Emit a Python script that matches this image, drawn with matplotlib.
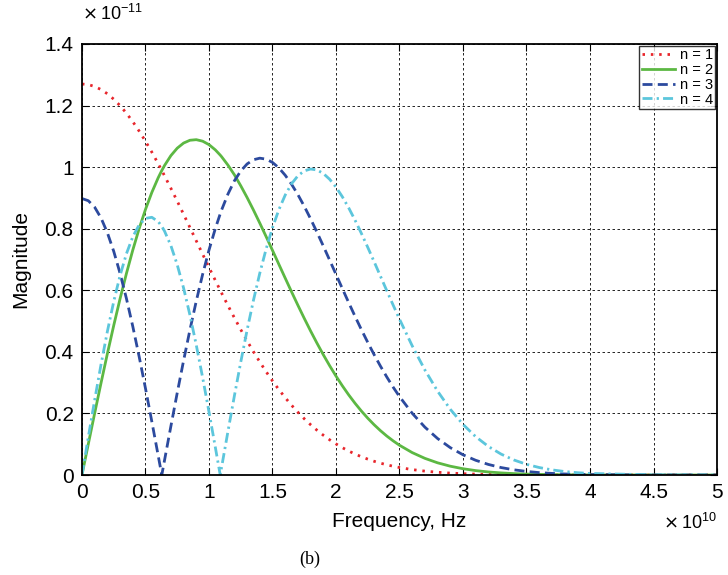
import matplotlib
matplotlib.use('Agg')
import matplotlib.pyplot as plt

# frequency axis, units of 1e10 Hz
freq = [0.0, 0.05, 0.1, 0.15, 0.2, 0.25, 0.3, 0.35, 0.4, 0.45, 0.5, 0.55, 0.6,
        0.6285, 0.65, 0.7, 0.75, 0.8, 0.85, 0.9, 0.95, 1.0, 1.05, 1.0886, 1.1,
        1.15, 1.2, 1.25, 1.3, 1.35, 1.4, 1.45, 1.5, 1.55, 1.6, 1.65, 1.7, 1.75,
        1.8, 1.85, 1.9, 1.95, 2.0, 2.05, 2.1, 2.15, 2.2, 2.25, 2.3, 2.35, 2.4,
        2.45, 2.5, 2.6, 2.7, 2.8, 2.9, 3.0, 3.1, 3.2, 3.3, 3.4, 3.5, 3.6, 3.7,
        3.8, 3.9, 4.0, 4.5, 5.0]

# spectrum magnitudes, units of 1e-11
mag_n1 = [1.2700, 1.2680, 1.2620, 1.2520, 1.2383, 1.2207, 1.1997, 1.1752, 1.1477,
          1.1172, 1.0841, 1.0487, 1.0112, 0.9891, 0.9720, 0.9313, 0.8896, 0.8470,
          0.8039, 0.7606, 0.7173, 0.6744, 0.6321, 0.5999, 0.5905, 0.5499, 0.5107,
          0.4724, 0.4358, 0.4007, 0.3673, 0.3356, 0.3057, 0.2776, 0.2513, 0.2267,
          0.2039, 0.1828, 0.1634, 0.1456, 0.1293, 0.1144, 0.1010, 0.0888, 0.0779,
          0.0681, 0.0593, 0.0516, 0.0446, 0.0385, 0.0332, 0.0284, 0.0243,
          0.0176, 0.0126, 0.0089, 0.0062, 0.0043, 0.0029, 0.0019, 0.0013, 0.0008,
          0.0005, 0.0003, 0.0002, 0.0001, 0.0001, 0.0001, 0.0, 0.0]
mag_n2 = [0.0, 0.1009, 0.2008, 0.2988, 0.3941, 0.4856, 0.5727, 0.6545, 0.7305,
          0.8000, 0.8625, 0.9178, 0.9654, 0.9891, 1.0053, 1.0374, 1.0616, 1.0782,
          1.0873, 1.0892, 1.0843, 1.0731, 1.0560, 1.0391, 1.0335, 1.0062, 0.9752,
          0.9396, 0.9014, 0.8608, 0.8183, 0.7744, 0.7297, 0.6846, 0.6397, 0.5952,
          0.5515, 0.5090, 0.4679, 0.4285, 0.3908, 0.3551, 0.3214, 0.2898, 0.2603,
          0.2330, 0.2078, 0.1846, 0.1634, 0.1441, 0.1266, 0.1109, 0.0967,
          0.0728, 0.0541, 0.0396, 0.0286, 0.0204, 0.0143, 0.0099, 0.0068, 0.0046,
          0.0030, 0.0020, 0.0013, 0.0008, 0.0005, 0.0003, 0.0, 0.0]
mag_n3 = [0.8980, 0.8909, 0.8698, 0.8349, 0.7869, 0.7266, 0.6550, 0.5733, 0.4828,
          0.3850, 0.2814, 0.1736, 0.0633, 0.0, 0.0479, 0.1584, 0.2668, 0.3715,
          0.4713, 0.5651, 0.6517, 0.7304, 0.8005, 0.8484, 0.8615, 0.9131, 0.9555,
          0.9873, 1.0103, 1.0240, 1.0291, 1.0260, 1.0153, 0.9976, 0.9738, 0.9446,
          0.9107, 0.8730, 0.8321, 0.7889, 0.7440, 0.6981, 0.6518, 0.6056, 0.5600,
          0.5154, 0.4722, 0.4308, 0.3912, 0.3537, 0.3184, 0.2854, 0.2548,
          0.2006, 0.1554, 0.1185, 0.0889, 0.0657, 0.0478, 0.0343, 0.0242, 0.0169,
          0.0116, 0.0078, 0.0052, 0.0034, 0.0022, 0.0014, 0.0001, 0.0]
mag_n4 = [0.0, 0.1233, 0.2438, 0.3590, 0.4663, 0.5634, 0.6481, 0.7187, 0.7738,
          0.8123, 0.8335, 0.8371, 0.8232, 0.8076, 0.7922, 0.7451, 0.6830, 0.6073,
          0.5197, 0.4221, 0.3166, 0.2052, 0.0900, 0.0, 0.0267, 0.1430, 0.2570,
          0.3666, 0.4705, 0.5672, 0.6554, 0.7343, 0.8032, 0.8615, 0.9091, 0.9458,
          0.9719, 0.9878, 0.9939, 0.9909, 0.9795, 0.9606, 0.9351, 0.9038, 0.8678,
          0.8278, 0.7848, 0.7396, 0.6931, 0.6459, 0.5986, 0.5519, 0.5063,
          0.4197, 0.3412, 0.2723, 0.2135, 0.1644, 0.1245, 0.0927, 0.0679, 0.0489,
          0.0347, 0.0243, 0.0167, 0.0113, 0.0075, 0.0050, 0.0005, 0.0]

labels = ['n = 1', 'n = 2', 'n = 3', 'n = 4']
x_ticks = [0, 0.5, 1, 1.5, 2, 2.5, 3, 3.5, 4, 4.5, 5]
x_ticklabels = ['0', '0.5', '1', '1.5', '2', '2.5', '3', '3.5', '4', '4.5', '5']
y_ticks = [0, 0.2, 0.4, 0.6, 0.8, 1.0, 1.2, 1.4]
y_ticklabels = ['0', '0.2', '0.4', '0.6', '0.8', '1', '1.2', '1.4']

plt.rcParams['font.family'] = ['Liberation Sans', 'DejaVu Sans']

fig = plt.figure(figsize=(7.28, 5.75), dpi=100)
ax = fig.add_axes([0.1126, 0.1739, 0.8723, 0.7496])

ax.plot(freq, mag_n1, color='#e8262c', lw=2.0, ls=(0, (0.9, 2.1)), label=labels[0])
ax.plot(freq, mag_n2, color='#5cb843', lw=2.0, ls='-', label=labels[1])
ax.plot(freq, mag_n3, color='#2c4a9e', lw=2.0, ls=(0, (3.6, 1.9)), label=labels[2])
ax.plot(freq, mag_n4, color='#5cc6dc', lw=2.0, ls=(0, (3.6, 1.5, 0.8, 1.5)), label=labels[3])

ax.set_xlim(0, 5)
ax.set_ylim(0, 1.4)
ax.set_xticks(x_ticks)
ax.set_xticklabels(x_ticklabels)
ax.set_yticks(y_ticks)
ax.set_yticklabels(y_ticklabels)
ax.tick_params(direction='in', length=5, width=0.8, labelsize=15,
               top=True, right=True, pad=6)
ax.grid(True, color='black', ls=(0, (3, 3)), lw=0.6)
for s in ax.spines.values():
    s.set_linewidth(1.3)
    s.set_color('black')

ax.set_xlabel('Frequency, Hz', fontsize=15, labelpad=7)
ax.set_ylabel('Magnitude', fontsize=15, labelpad=10)

# exponent multipliers, MATLAB style
fig.text(0.1126, 0.958, r'$\times\,\mathregular{10^{-11}}$', fontsize=13, ha='left', va='bottom')
fig.text(0.985, 0.073, r'$\times\,\mathregular{10^{10}}$', fontsize=13, ha='right', va='bottom')

fig.text(0.426, 0.013, '(b)', fontsize=13, family='Liberation Serif', ha='center', va='bottom')

leg = ax.legend(loc='upper right', fontsize=10.5, frameon=True, fancybox=False,
                edgecolor='black', handlelength=2.3, handletextpad=0.3,
                borderpad=0.15, labelspacing=0.05, borderaxespad=0.15)
leg.get_frame().set_linewidth(1.0)

plt.savefig('out.png', dpi=100)
plt.close()
